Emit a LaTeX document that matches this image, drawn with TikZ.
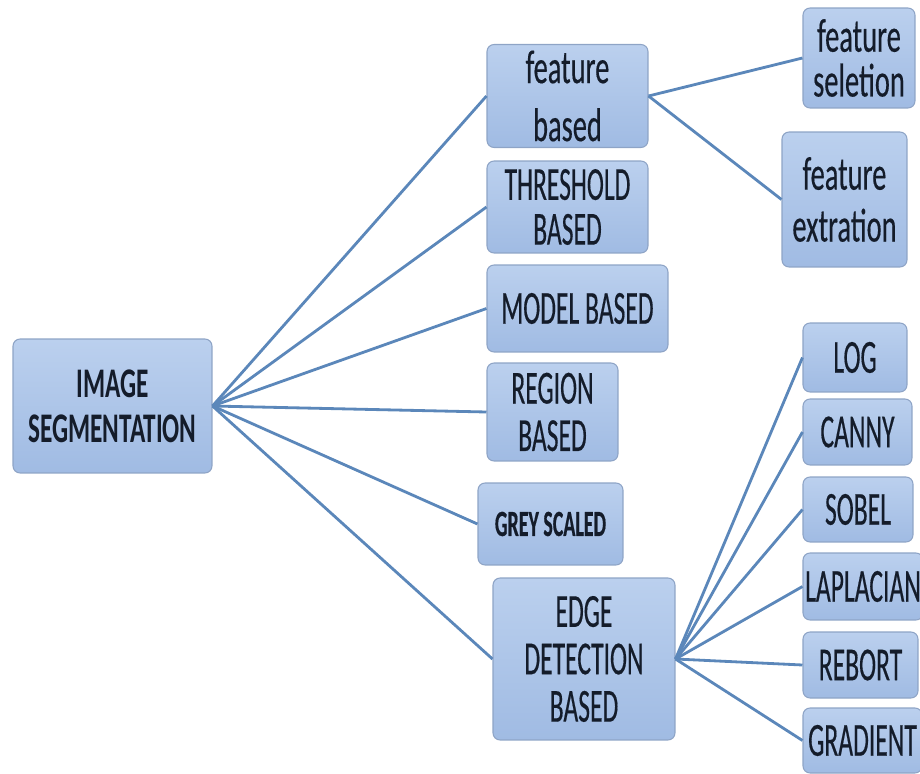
\documentclass[tikz,border=0pt]{standalone}
\usepackage{fontspec}
\newfontfamily\segfont[FakeStretch=0.6]{Carlito}
\newfontfamily\capfont[FakeStretch=0.54,FakeBold=0.3]{Carlito}
\newfontfamily\lowfont[FakeStretch=0.6,FakeBold=0.3]{Carlito}
\newfontfamily\greyfont[FakeStretch=0.54,FakeBold=0.4]{Carlito}
\definecolor{boxtop}{HTML}{BBD0EE}
\definecolor{boxbot}{HTML}{A0BBE3}
\definecolor{boxline}{HTML}{8EA4C6}
\definecolor{linkblue}{HTML}{5B87BA}
\definecolor{ink}{HTML}{141C2A}

\begin{document}
\begin{tikzpicture}[x=0.02cm,y=-0.02cm,
  box/.style={rounded corners=4pt,draw=boxline,line width=0.6pt,
    top color=boxtop,bottom color=boxbot,text=ink,align=center,inner sep=0pt},
  segbox/.style={box,font=\segfont\bfseries\fontsize{24}{25.5}\selectfont},
  capbox/.style={box,font=\capfont\fontsize{27}{27}\selectfont},
  lowbox/.style={box,font=\lowfont\fontsize{27}{28}\selectfont},
  greybox/.style={box,font=\greyfont\bfseries\fontsize{21}{22}\selectfont},
  link/.style={draw=linkblue,line width=1.6pt}]
  \useasboundingbox (0,0) rectangle (920,774);
  % root
  \node[segbox,minimum width=3.98cm,minimum height=2.68cm] (seg) at (112.5,406) {IMAGE\\SEGMENTATION};
  % middle column
  \node[lowbox,minimum width=3.22cm,minimum height=2.06cm,font=\lowfont\fontsize{27}{33}\selectfont] (feat) at (567.5,96) {feature\\based};
  \node[capbox,minimum width=3.22cm,minimum height=1.84cm,font=\capfont\fontsize{27}{25.5}\selectfont] (thresh) at (567.5,207) {THRESHOLD\\BASED};
  \node[capbox,minimum width=3.62cm,minimum height=1.74cm] (model) at (577.5,308.5) {MODEL BASED};
  \node[capbox,minimum width=2.62cm,minimum height=1.96cm] (region) at (552.5,412) {REGION\\BASED};
  \node[greybox,minimum width=2.90cm,minimum height=1.64cm] (grey) at (550.5,524) {GREY SCALED};
  \node[capbox,minimum width=3.64cm,minimum height=3.24cm] (edge) at (584,659) {EDGE\\DETECTION\\BASED};
  % feature branch
  \node[lowbox,minimum width=2.24cm,minimum height=2.00cm,font=\lowfont\fontsize{27}{25.5}\selectfont] (fsel) at (859,58) {feature\\seletion};
  \node[lowbox,minimum width=2.50cm,minimum height=2.70cm,font=\lowfont\fontsize{27}{29.5}\selectfont] (fext) at (844.5,199.5) {feature\\extration};
  % edge branch
  \node[capbox,minimum width=2.08cm,minimum height=1.38cm] (log) at (855,357.5) {LOG};
  \node[capbox,minimum width=2.18cm,minimum height=1.32cm] (canny) at (857.5,432) {CANNY};
  \node[capbox,minimum width=2.20cm,minimum height=1.30cm] (sobel) at (858,509.5) {SOBEL};
  \node[capbox,minimum width=2.40cm,minimum height=1.34cm] (lap) at (863,586.5) {LAPLACIAN};
  \node[capbox,minimum width=2.30cm,minimum height=1.32cm] (rebort) at (860.5,665) {REBORT};
  \node[capbox,minimum width=2.38cm,minimum height=1.30cm] (grad) at (862.5,740.5) {GRADIENT};

  \path[link]
  (seg.east) edge (feat.west)
  (seg.east) edge (thresh.west)
  (seg.east) edge (model.west)
  (seg.east) edge (region.west)
  (seg.east) edge (grey.west)
  (seg.east) edge (edge.west)
  (feat.east) edge (fsel.west)
  (feat.east) edge (fext.west)
  (edge.east) edge (log.west)
  (edge.east) edge (canny.west)
  (edge.east) edge (sobel.west)
  (edge.east) edge (lap.west)
  (edge.east) edge (rebort.west)
  (edge.east) edge (grad.west)
  ;
\end{tikzpicture}
\end{document}
